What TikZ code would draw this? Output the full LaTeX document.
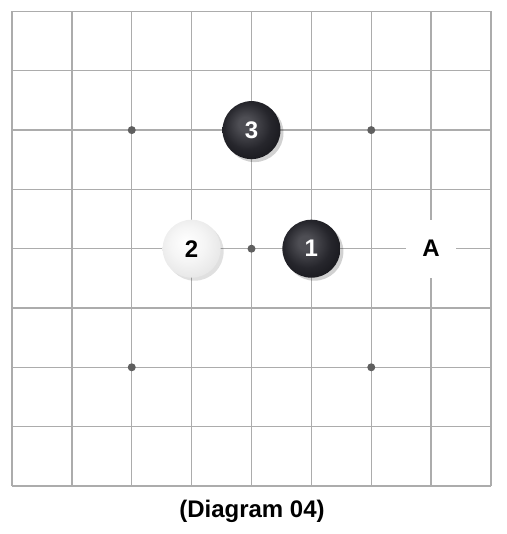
\documentclass[tikz,border=0pt]{standalone}
\usepackage{fontspec}
\setmainfont{Liberation Sans}
\definecolor{hl}{RGB}{78,78,84}
\definecolor{mid}{RGB}{38,38,44}
\definecolor{dk}{RGB}{14,14,18}
\pgfdeclareradialshading{blackstone}{\pgfpoint{-6bp}{6bp}}{color(0bp)=(hl); color(6bp)=(hl); color(20bp)=(mid); color(38bp)=(dk); color(50bp)=(black)}
\pgfdeclareradialshading{whitestone}{\pgfpoint{-5bp}{6bp}}{color(0bp)=(white); color(15bp)=(black!4); color(35bp)=(black!12); color(50bp)=(black!24)}
\definecolor{gridgray}{RGB}{172,172,172}
\definecolor{stargray}{RGB}{95,95,95}
\begin{document}
\begin{tikzpicture}[x=1pt,y=-1pt,
  gridline/.style={draw=gridgray,line width=1.3pt},
  starpt/.style={circle,fill=stargray,inner sep=0pt,minimum size=8pt},
  stoneshadow/.style={fill=black,opacity=0.18},
  bstone/.style={circle,inner sep=0pt,minimum size=58pt,shading=blackstone,text=white,font=\bfseries\fontsize{24}{24}\selectfont},
  wstone/.style={circle,inner sep=0pt,minimum size=58pt,shading=whitestone,text=black,font=\bfseries\fontsize{24}{24}\selectfont},
  marklabel/.style={fill=white,inner sep=0pt,minimum width=50pt,minimum height=58pt,font=\bfseries\fontsize{24}{24}\selectfont},
  caption/.style={font=\bfseries\fontsize{24}{28}\selectfont}]
\useasboundingbox (0,0) rectangle (506,534);
\def\gx#1{12+59.875*#1}
\def\gy#1{11.5+59.3*#1}
% grid
\foreach \i in {0,...,8}{
  \draw[gridline] ({\gx{\i}},{\gy{0}}) -- ({\gx{\i}},{\gy{8}});
  \draw[gridline] ({\gx{0}},{\gy{\i}}) -- ({\gx{8}},{\gy{\i}});
}
% star points
\node[starpt] (h1) at ({\gx{2}},{\gy{2}}) {};
\node[starpt] (h2) at ({\gx{6}},{\gy{2}}) {};
\node[starpt] (h3) at ({\gx{2}},{\gy{6}}) {};
\node[starpt] (h4) at ({\gx{6}},{\gy{6}}) {};
\node[starpt] (h5) at ({\gx{4}},{\gy{4}}) {};
% shadows
\fill[stoneshadow] ({\gx{4}+3},{\gy{2}+3}) circle (29pt);
\fill[stoneshadow] ({\gx{5}+3},{\gy{4}+3}) circle (29pt);
\fill[stoneshadow,opacity=0.12] ({\gx{3}+3},{\gy{4}+3}) circle (29pt);
% stones
\node[bstone] (s3) at ({\gx{4}},{\gy{2}}) {3};
\node[bstone] (s1) at ({\gx{5}},{\gy{4}}) {1};
\node[wstone] (s2) at ({\gx{3}},{\gy{4}}) {2};
% mark
\node[marklabel] (a) at ({\gx{7}},{\gy{4}}) {A};
% caption
\node[caption] (cap) at (252,511) {(Diagram 04)};
\end{tikzpicture}
\end{document}
